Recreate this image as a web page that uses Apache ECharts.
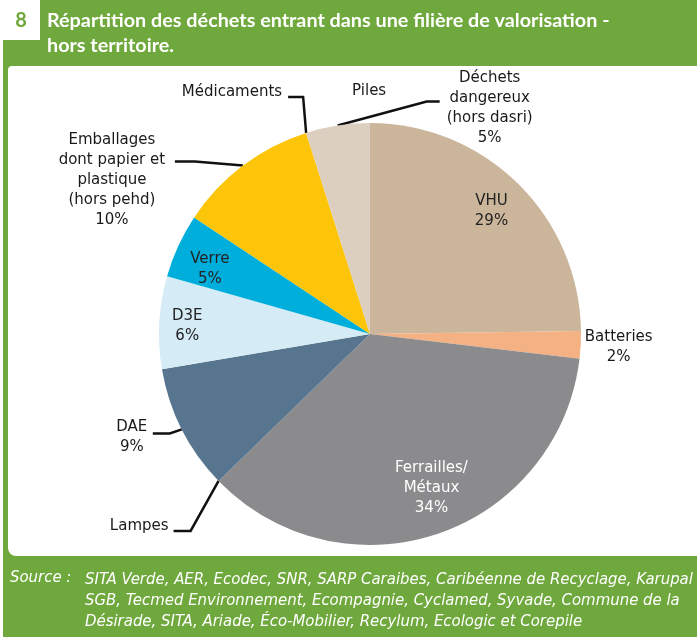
<!DOCTYPE html>
<html lang="fr">
<head>
  <meta charset="UTF-8">
  <title>Déchets hors territoire</title>
  <style>
    html, body { margin: 0; padding: 0; }
    #main { width: 697px; height: 637px; }
  </style>
</head>
<body>
  <div id="main"></div>
</body>
<script src="https://cdn.jsdelivr.net/npm/echarts@6/dist/echarts.min.js"></script>
<script>
  // slices, clockwise from 12 o'clock (values = share of the circle)
  var names = ['VHU', 'Batteries', 'Ferrailles/\nMétaux', 'Lampes', 'DAE', 'D3E', 'Verre',
    'Emballages\ndont papier et\nplastique\n(hors pehd)', 'Médicaments', 'Piles',
    'Déchets\ndangereux\n(hors dasri)'];
  var values = [24.8, 2.1, 35.9, 0, 9.6, 7.1, 4.9, 10.8, 0, 0, 4.9];
  var pctLabels = ['29%', '2%', '34%', '', '9%', '6%', '5%', '10%', '', '', '5%'];
  var colors = ['#cbb69b', '#f4b183', '#8b8b8d', '#8b8b8d', '#57758f', '#d5ebf5', '#00aedb',
    '#fcc50a', '#fcc50a', '#dccfbf', '#dccfbf'];

  var GREEN = '#6fa83c';
  var FONT = 'DejaVu Sans';
  var HEAD_FONT = 'Lato';

  // labels drawn inside the slice (second, invisible ring)
  var inside = {
    0: { color: '#222', offset: [0, 0] },
    2: { color: '#fff', offset: [6, -10] },
    5: { color: '#222', offset: [-10, 2] },
    6: { color: '#222', offset: [-3, 7] }
  };
  // outside labels: leader bend from slice edge, horizontal tail, label pos from slice edge
  var leaders = {
    1: { bend: [0, 0], tail: 0, label: [38, 2], align: 'center', hideLine: true },
    3: { bend: [-28, 50], tail: -17, label: [-50, 45], align: 'right' },
    4: { bend: [-12, 4], tail: -17, label: [-50, 8], align: 'center' },
    7: { bend: [-48, -4], tail: -20, label: [-131, 15], align: 'center' },
    8: { bend: [-3, -36], tail: -15, label: [-24, -41], align: 'right' },
    9: { bend: [0, 0], tail: 0, label: [63, -42], align: 'center', hideLine: true },
    10: { bend: [89, -24], tail: 13, label: [152, -17], align: 'center' }
  };

  function labelText(i) {
    return pctLabels[i] ? names[i] + '\n' + pctLabels[i] : names[i];
  }

  var pieData = values.map(function (v, i) {
    var out = leaders[i];
    return {
      name: names[i],
      value: v,
      itemStyle: { color: colors[i] },
      label: { show: !!out },
      labelLine: { show: !!out, lineStyle: { opacity: out && out.hideLine ? 0 : 1 } }
    };
  });

  var ringData = values.map(function (v, i) {
    var ins = inside[i];
    return {
      name: names[i],
      value: v,
      label: ins ? { show: true, color: ins.color, offset: ins.offset } : { show: false }
    };
  });

  var chartDom = document.getElementById('main');
  var myChart = echarts.init(chartDom, null, { renderer: 'canvas' });
  var option;

  option = {
    backgroundColor: GREEN,
    animation: false,
    title: [
      {
        text: 'Répartition des déchets entrant dans une filière de valorisation -\nhors territoire.',
        left: 47, top: 8, padding: 0,
        textStyle: { color: '#fff', fontSize: 19.8, fontWeight: 'bold', lineHeight: 25,
          fontFamily: HEAD_FONT }
      },
      {
        text: 'Source :',
        left: 10, top: 569, padding: 0,
        textStyle: { color: '#fff', fontSize: 16.6, fontWeight: 'normal', fontStyle: 'italic',
          fontFamily: 'DejaVu Sans Condensed' }
      },
      {
        text: 'SITA Verde, AER, Ecodec, SNR, SARP Caraibes, Caribéenne de Recyclage, Karupal\n' +
          'SGB, Tecmed Environnement, Ecompagnie, Cyclamed, Syvade, Commune de la\n' +
          'Désirade, SITA, Ariade, Éco-Mobilier, Recylum, Ecologic et Corepile',
        left: 85, top: 569, padding: 0,
        textStyle: { color: '#fff', fontSize: 16.6, fontWeight: 'normal', fontStyle: 'italic',
          lineHeight: 21, fontFamily: 'DejaVu Sans Condensed' }
      }
    ],
    graphic: [
      { type: 'rect', shape: { x: 0, y: 0, width: 40, height: 40 }, style: { fill: '#fff' } },
      { type: 'rect', shape: { x: 0, y: 40, width: 3, height: 597 }, style: { fill: '#fff' } },
      {
        type: 'text', x: 21, y: 21,
        style: { text: '8', fill: GREEN, font: 'bold 20px Lato',
          align: 'center', verticalAlign: 'middle' }
      },
      {
        type: 'rect', z: -1,
        shape: { x: 8, y: 66, width: 700, height: 490, r: [4, 0, 0, 8] },
        style: { fill: '#fff' }
      }
    ],
    series: [
      {
        type: 'pie',
        center: [370, 334],
        radius: 211,
        startAngle: 90,
        clockwise: true,
        avoidLabelOverlap: false,
        silent: true,
        data: pieData,
        label: {
          position: 'outside',
          formatter: function (p) { return labelText(p.dataIndex); },
          color: '#1a1a1a', fontSize: 15, lineHeight: 20, fontFamily: FONT
        },
        labelLine: { length: 10, length2: 10, smooth: false,
          lineStyle: { color: '#111', width: 2.5 } },
        labelLayout: function (params) {
          var L = leaders[params.dataIndex];
          if (!L || !params.labelLinePoints) return {};
          var p0 = params.labelLinePoints[0];
          var p1 = [p0[0] + L.bend[0], p0[1] + L.bend[1]];
          var p2 = [p1[0] + L.tail, p1[1]];
          return {
            x: p0[0] + L.label[0],
            y: p0[1] + L.label[1],
            align: L.align,
            verticalAlign: 'middle',
            labelLinePoints: [p0, p1, p2]
          };
        }
      },
      {
        type: 'pie',
        center: [370, 334],
        radius: [150, 190],
        startAngle: 90,
        clockwise: true,
        silent: true,
        avoidLabelOverlap: false,
        itemStyle: { color: 'rgba(0,0,0,0)' },
        data: ringData,
        label: {
          position: 'inside',
          formatter: function (p) { return labelText(p.dataIndex); },
          fontSize: 15, lineHeight: 20, fontFamily: FONT
        },
        labelLine: { show: false }
      }
    ]
  };

  option && myChart.setOption(option);
</script>
</html>
